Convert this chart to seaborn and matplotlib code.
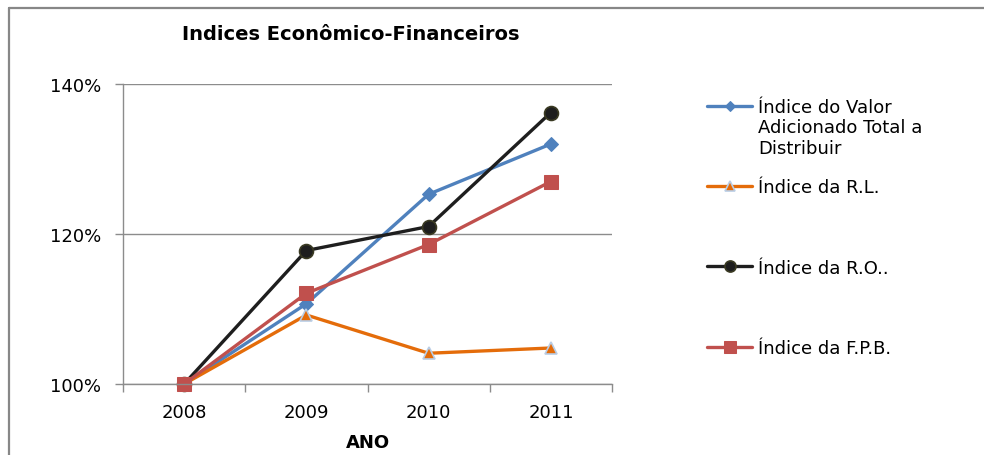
import pandas as pd
import matplotlib.pyplot as plt
import matplotlib.ticker as mticker
from matplotlib.lines import Line2D
import seaborn as sns

# ── Données ────────────────────────────────────────────────────────────────
ANOS = ["2008", "2009", "2010", "2011"]
VALOR_ADIC = [100.0, 110.7, 125.3, 132.0]
RL = [100.0, 109.2, 104.1, 104.8]
RO = [100.0, 117.8, 121.0, 136.2]
FPB = [100.0, 112.1, 118.6, 127.0]

NOMES = ["Índice do Valor", "Índice da R.L.", "Índice da R.O..", "Índice da F.P.B."]
CORES = ["#4F81BD", "#E46C0A", "#1E1E1E", "#C0504D"]

sns.set_theme(style="white")
plt.rcParams.update({"font.family": ["DejaVu Sans"], "font.size": 13,
                     "text.color": "black", "xtick.color": "black",
                     "ytick.color": "black", "axes.labelcolor": "black"})

df = pd.DataFrame({"x": range(len(ANOS)), "ano": ANOS,
                   NOMES[0]: VALOR_ADIC, NOMES[1]: RL,
                   NOMES[2]: RO, NOMES[3]: FPB})

fig = plt.figure(figsize=(9.84, 4.56), dpi=100)
ax = fig.add_axes([123/984, 71/456, 489/984, 300/456])

estilos = [
    dict(marker="D", markersize=7, mec="#4F81BD"),
    dict(marker="^", markersize=9, mec="#B9CDE5", mew=1.2),
    dict(marker="o", markersize=10, mec="#3A3A22", mew=1.2),
    dict(marker="s", markersize=10, mec="#C0504D"),
]
for nome, cor, est in zip(NOMES, CORES, estilos):
    sns.lineplot(data=df, x="x", y=nome, ax=ax, color=cor, linewidth=2.4,
                 label=nome, clip_on=False, **est)

ax.set_xlim(-0.5, 3.5)
ax.set_ylim(100, 140)
ax.yaxis.set_major_locator(mticker.MultipleLocator(20))
ax.yaxis.set_major_formatter(mticker.FuncFormatter(lambda v, p: f"{v:.0f}%"))
ax.grid(axis="y", color="#8C8C8C", linewidth=1)
ax.set_axisbelow(True)

# categorias: ticks nos limites, rótulos no centro
ax.set_xticks([-0.5, 0.5, 1.5, 2.5, 3.5])
ax.set_xticklabels([])
ax.set_xticks(range(len(ANOS)), minor=True)
ax.set_xticklabels(ANOS, minor=True)
ax.tick_params(axis="x", which="major", length=6, color="#8C8C8C", width=1,
               bottom=True)
ax.tick_params(axis="x", which="minor", length=0, pad=14, labelsize=13)
ax.tick_params(axis="y", length=6, color="#8C8C8C", width=1, left=True,
               pad=10, labelsize=13)

for s in ["top", "right"]:
    ax.spines[s].set_visible(False)
for s in ["left", "bottom"]:
    ax.spines[s].set_color("#8C8C8C")
    ax.spines[s].set_linewidth(1)

ax.set_ylabel("")
ax.set_xlabel("ANO", fontsize=13, fontweight="bold", labelpad=8)

fig.text(351/984, 1 - 34/456, "Indices Econômico-Financeiros",
         ha="center", va="center", fontsize=14, fontweight="bold")

leg = ax.legend(loc="upper left", bbox_to_anchor=(707/984, 1 - 99/456),
                bbox_transform=fig.transFigure, frameon=False, fontsize=13,
                handlelength=2.5, handletextpad=0.3, labelspacing=3.45,
                borderpad=0, borderaxespad=0, markerscale=0.8)
fig.text(758/984, 1 - 128/456, "Adicionado Total a", fontsize=13, va="center")
fig.text(758/984, 1 - 149/456, "Distribuir", fontsize=13, va="center")

# moldura do gráfico
fig.add_artist(Line2D([8.5/984, 1], [1 - 8.5/456] * 2, transform=fig.transFigure,
                      color="#878787", linewidth=1.6))
fig.add_artist(Line2D([8.5/984] * 2, [0, 1 - 8.5/456], transform=fig.transFigure,
                      color="#878787", linewidth=1.6))

plt.savefig("out.png", dpi=100)
plt.close()
